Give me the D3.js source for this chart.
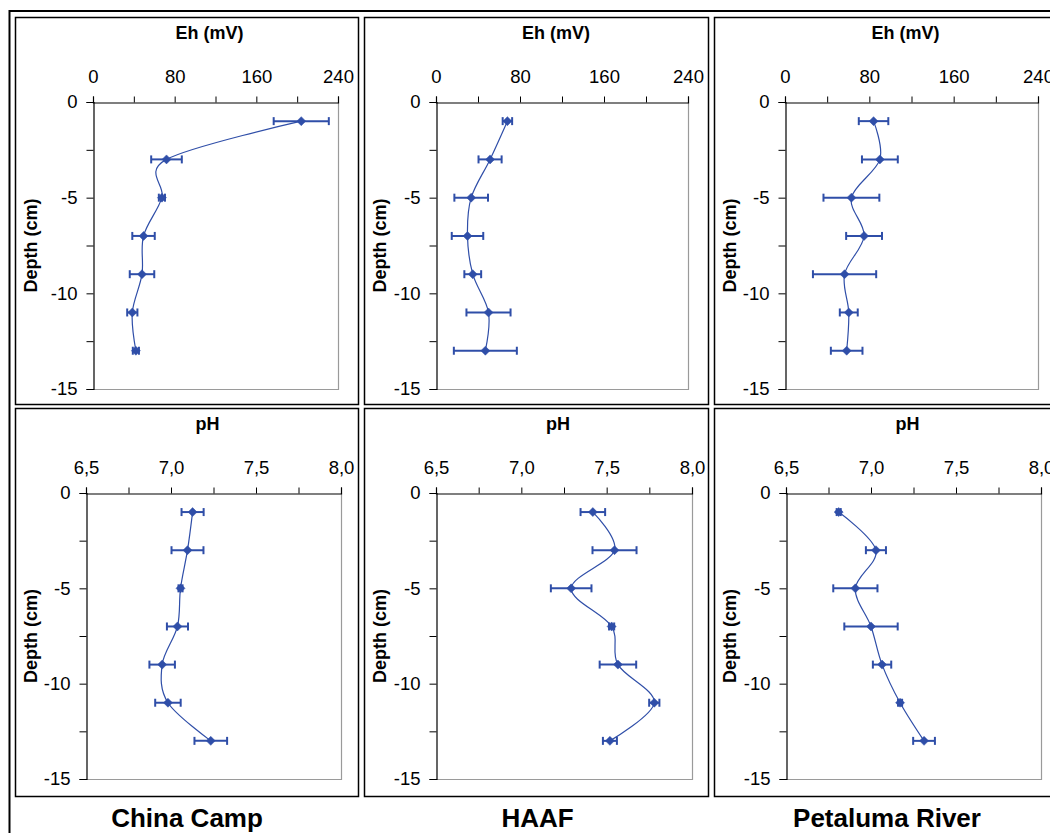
<!DOCTYPE html>
<html>
<head>
<meta charset="utf-8">
<script src="https://cdn.jsdelivr.net/npm/d3@7"></script>
<style>
  html, body { margin: 0; padding: 0; background: #fff; }
  svg { display: block; }
  text { font-family: "Liberation Sans", Arial, sans-serif; }
</style>
</head>
<body>
<svg id="chart" width="1050" height="833"></svg>
<script>
// ---------------- DATA ----------------
const sites = ["China Camp", "HAAF", "Petaluma River"];
const depths = [-1, -3, -5, -7, -9, -11, -13];

const ehChinaCamp     = [204, 72, 67.5, 49.5, 48, 38.5, 42];
const ehChinaCampErr  = [27, 15, 3, 11, 12, 5, 3];
const ehHAAF          = [68, 51.5, 33.5, 30, 35, 50, 47];
const ehHAAFErr       = [4.5, 11, 16, 15, 8, 21, 30];
const ehPetaluma      = [84, 90, 63, 75, 56.5, 60.5, 58.5];
const ehPetalumaErr   = [14, 17, 26.5, 17, 30, 8.5, 15];

const phChinaCamp     = [7.127, 7.097, 7.056, 7.038, 6.948, 6.982, 7.234];
const phChinaCampErr  = [0.065, 0.094, 0.012, 0.062, 0.075, 0.075, 0.096];
const phHAAF          = [7.419, 7.546, 7.292, 7.529, 7.566, 7.779, 7.519];
const phHAAFErr       = [0.072, 0.129, 0.119, 0.015, 0.107, 0.03, 0.041];
const phPetaluma      = [6.81, 7.029, 6.908, 7.0, 7.065, 7.171, 7.312];
const phPetalumaErr   = [0.012, 0.059, 0.13, 0.157, 0.054, 0.012, 0.064];

const ehTicks = [0, 80, 160, 240];
const ehMinorTicks = [40, 120, 200];
const phTicks = [6.5, 7.0, 7.5, 8.0];
const phTickLabels = ["6,5", "7,0", "7,5", "8,0"];
const phMinorTicks = [6.75, 7.25, 7.75];
const depthTicks = [0, -5, -10, -15];
const depthMinorTicks = [-2.5, -7.5, -12.5];

const ehTitle = "Eh (mV)";
const phTitle = "pH";
const depthTitle = "Depth (cm)";

// ---------------- DRAW ----------------
const svg = d3.select("#chart");
const blue = "#2F4EA8";

// outer frame
svg.append("rect").attr("x", 9.5).attr("y", 11).attr("width", 1100).attr("height", 900)
  .attr("fill", "none").attr("stroke", "#000").attr("stroke-width", 2);

const colBoxes = [[15, 358], [364, 708], [714, 1100]];
const rowBoxes = [[17, 404], [408, 796]];

const panels = [
  { row: 0, col: 0, vals: ehChinaCamp, errs: ehChinaCampErr, kind: "eh", x0: 93, x1: 338 },
  { row: 0, col: 1, vals: ehHAAF, errs: ehHAAFErr, kind: "eh", x0: 436, x1: 688 },
  { row: 0, col: 2, vals: ehPetaluma, errs: ehPetalumaErr, kind: "eh", x0: 785, x1: 1038 },
  { row: 1, col: 0, vals: phChinaCamp, errs: phChinaCampErr, kind: "ph", x0: 86, x1: 341 },
  { row: 1, col: 1, vals: phHAAF, errs: phHAAFErr, kind: "ph", x0: 436, x1: 692 },
  { row: 1, col: 2, vals: phPetaluma, errs: phPetalumaErr, kind: "ph", x0: 786, x1: 1041 }
];
const rowY = [[102, 389], [493, 779]];

// panel boxes
panels.forEach(p => {
  const cb = colBoxes[p.col], rb = rowBoxes[p.row];
  svg.append("rect").attr("x", cb[0] + 0.5).attr("y", rb[0] + 0.5)
    .attr("width", cb[1] - cb[0]).attr("height", rb[1] - rb[0])
    .attr("fill", "none").attr("stroke", "#000").attr("stroke-width", 1.5);
});

panels.forEach(p => {
  const isEh = p.kind === "eh";
  const x = d3.scaleLinear()
    .domain(isEh ? [ehTicks[0], ehTicks[ehTicks.length - 1]] : [phTicks[0], phTicks[phTicks.length - 1]])
    .range([p.x0, p.x1]);
  const y = d3.scaleLinear().domain([0, -15]).range(rowY[p.row]);
  const g = svg.append("g");

  // gray right & bottom plot border
  g.append("path")
    .attr("d", `M${x.range()[1] + 0.5},${y(0)} V${y(-15) + 0.5} H${x.range()[0]}`)
    .attr("fill", "none").attr("stroke", "#9a9a9a").attr("stroke-width", 1.2);

  // top axis
  const majors = isEh ? ehTicks : phTicks;
  const minors = isEh ? ehMinorTicks : phMinorTicks;
  const xAxis = d3.axisTop(x)
    .tickValues(majors.concat(minors).sort((a, b) => a - b))
    .tickSize(6).tickPadding(14)
    .tickFormat(d => {
      const i = majors.indexOf(d);
      if (i < 0) return "";
      return isEh ? String(d) : phTickLabels[i];
    });
  const ax = g.append("g").attr("transform", `translate(0,${y(0) + 0.5})`).call(xAxis);
  ax.select(".domain").attr("stroke", "#000").attr("stroke-width", 1.2);
  ax.selectAll(".tick line").attr("stroke", "#000").attr("stroke-width", 1);
  ax.selectAll(".tick text").attr("font-size", 18.5).attr("fill", "#000")
    .attr("font-family", "'Liberation Sans', Arial, sans-serif");

  // left axis
  const yAxis = d3.axisLeft(y)
    .tickValues(depthTicks.concat(depthMinorTicks))
    .tickSize(7).tickPadding(9)
    .tickFormat(d => depthTicks.indexOf(d) >= 0 ? String(d) : "");
  const ay = g.append("g").attr("transform", `translate(${x.range()[0] + 0.5},0)`).call(yAxis);
  ay.select(".domain").attr("stroke", "#000").attr("stroke-width", 1.2);
  ay.selectAll(".tick line").attr("stroke", "#000").attr("stroke-width", 1);
  ay.selectAll(".tick text").attr("font-size", 18.5).attr("fill", "#000")
    .attr("font-family", "'Liberation Sans', Arial, sans-serif");

  // titles
  const cx = (x.range()[0] + x.range()[1]) / 2 - 6;
  g.append("text").attr("x", cx).attr("y", y(0) - 63)
    .attr("text-anchor", "middle").attr("font-size", 18).attr("font-weight", "bold")
    .text(isEh ? ehTitle : phTitle);
  const cy = (y(0) + y(-15)) / 2;
  const lx = colBoxes[p.col][0] + 16;
  g.append("text").attr("transform", `translate(${lx},${cy}) rotate(-90)`)
    .attr("text-anchor", "middle").attr("font-size", 18).attr("font-weight", "bold")
    .attr("dy", "0.35em")
    .text(depthTitle);

  const pts = depths.map((d, i) => ({ d, v: p.vals[i], e: p.errs[i] }));

  // smoothed line
  const line = d3.line().x(q => x(q.v)).y(q => y(q.d)).curve(d3.curveCatmullRom.alpha(0));
  g.append("path").datum(pts).attr("d", line)
    .attr("fill", "none").attr("stroke", blue).attr("stroke-width", 1.2);

  // error bars
  const eb = g.append("g").attr("stroke", blue).attr("stroke-width", 2);
  pts.forEach(q => {
    const a = x(q.v - q.e), b = x(q.v + q.e), yy = y(q.d);
    eb.append("line").attr("x1", a).attr("x2", b).attr("y1", yy).attr("y2", yy);
    eb.append("line").attr("x1", a).attr("x2", a).attr("y1", yy - 4).attr("y2", yy + 4);
    eb.append("line").attr("x1", b).attr("x2", b).attr("y1", yy - 4).attr("y2", yy + 4);
  });

  // diamond markers
  g.selectAll("path.mk").data(pts).join("path").attr("class", "mk")
    .attr("d", "M0,-4.5L4.5,0L0,4.5L-4.5,0Z")
    .attr("transform", q => `translate(${x(q.v)},${y(q.d)})`)
    .attr("fill", blue).attr("stroke", blue).attr("stroke-width", 0.5);
});

// site labels
const labelCenters = [187, 537.5, 887];
sites.forEach((s, i) => {
  svg.append("text").attr("x", labelCenters[i]).attr("y", 827)
    .attr("text-anchor", "middle").attr("font-size", 26).attr("font-weight", "bold")
    .text(s);
});
</script>
</body>
</html>
